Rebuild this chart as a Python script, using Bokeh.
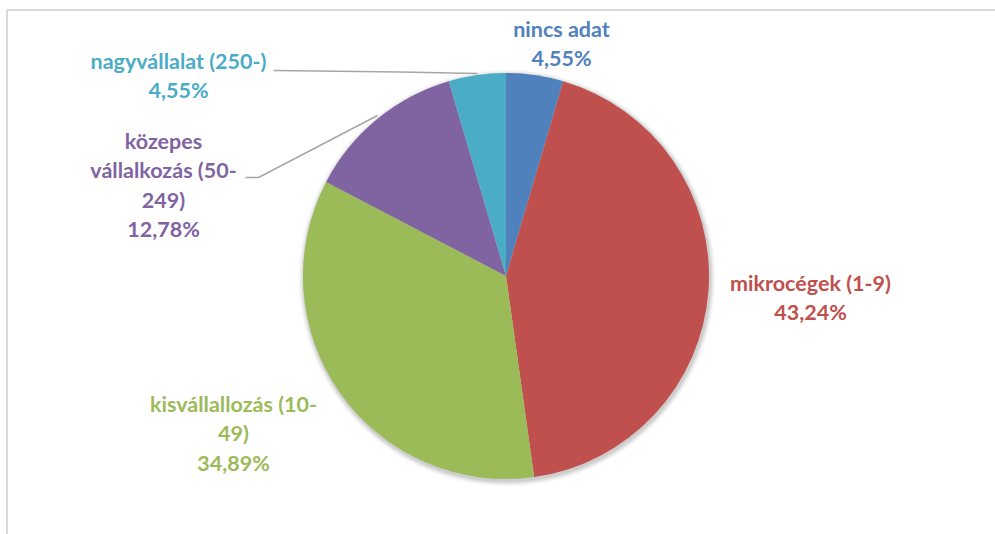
import numpy as np
from bokeh.plotting import figure
from bokeh.models import Range1d
from bokeh.core.properties import value
from bokeh.embed import file_html
from bokeh.resources import INLINE

# ---- data ----
categories = ["nincs adat", "mikrocégek (1-9)", "kisvállallozás (10-49)",
              "közepes vállalkozás (50-249)", "nagyvállalat (250-)"]
shares = [4.55, 43.24, 34.89, 12.78, 4.55]
share_labels = ["4,55%", "43,24%", "34,89%", "12,78%", "4,55%"]
colors = ["#4F81BD", "#C0504D", "#9BBB59", "#8064A2", "#4BACC6"]
label_lines = [["nincs adat"], ["mikrocégek (1-9)"], ["kisvállallozás (10-", "49)"],
               ["közepes", "vállalkozás (50-", "249)"], ["nagyvállalat (250-)"]]

W, H = 995, 534
def Y(yp):
    return 534 - yp

p = figure(width=W, height=H, output_backend="svg", toolbar_location=None,
           x_range=Range1d(0, W), y_range=Range1d(534 - H, 534),
           min_border=0, outline_line_color=None)
p.axis.visible = False
p.grid.visible = False
p.background_fill_color = "white"

# frame (top + left)
p.line([6.5, 995], [Y(9.5), Y(9.5)], line_color="#d9d9d9", line_width=2)
p.line([6.5, 6.5], [Y(9.5), 0], line_color="#d9d9d9", line_width=2)

cx, cy, r = 505.5, 275.5, 203
# soft shadow
for k, a in zip(range(6), [0.05, 0.045, 0.04, 0.03, 0.02, 0.012]):
    p.circle(x=cx + 1, y=Y(cy + 2), radius=r + 1 + k, fill_color="#000000",
             fill_alpha=a, line_color=None)

tot = sum(shares)
cum = np.concatenate([[0], np.cumsum(shares)]) / tot
starts = np.pi / 2 - cum[:-1] * 2 * np.pi
ends = np.pi / 2 - cum[1:] * 2 * np.pi
p.wedge(x=[cx] * len(shares), y=[Y(cy)] * len(shares), radius=r,
        start_angle=list(starts), end_angle=list(ends), direction="clock",
        fill_color=colors, line_color=None)

# leader lines
p.line([273, 400, 477], [Y(70), Y(71.5), Y(73)], line_color="#a6a6a6", line_width=1.5)
p.line([245, 258, 377], [Y(177), Y(177), Y(115)], line_color="#a6a6a6", line_width=1.5)

# labels: (center x, first line y)
label_pos = [(561, 28), (810, 282), (233, 403), (163, 140), (178, 60)]
lh = 29.5
for i, (lx, ly) in enumerate(label_pos):
    lines = label_lines[i] + [share_labels[i]]
    ys = [Y(ly + j * lh) for j in range(len(lines))]
    p.text(x=[lx] * len(lines), y=ys, text=lines, text_color=colors[i],
           text_font=value("Lato"), text_font_style="bold", text_font_size="21.5px",
           text_align="center", text_baseline="middle")

open("out.html", "w").write(file_html(p, INLINE))
